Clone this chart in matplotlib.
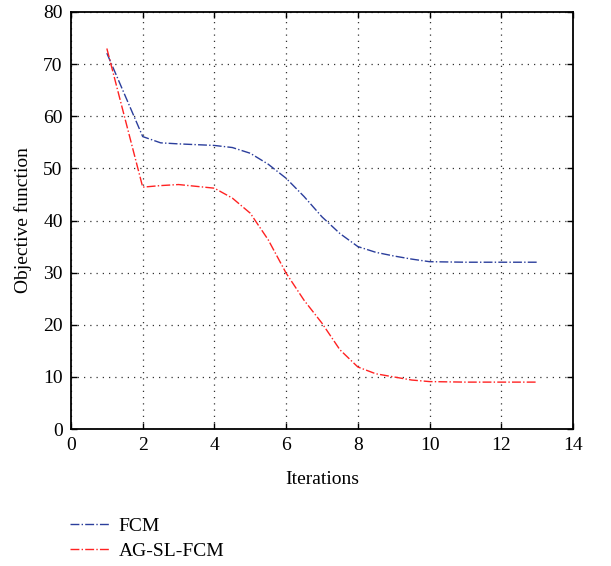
import matplotlib
matplotlib.use('Agg')
import matplotlib.pyplot as plt

plt.rcParams.update({
    'font.family': 'Liberation Serif',
    'font.size': 14,
})

# values (integer and half iterations)
iters = [1, 2, 2.5, 3, 4, 4.5, 5, 5.5, 6, 6.5, 7, 7.5, 8, 8.5, 9, 9.5, 10, 11, 12, 13]
fcm = [72.1, 56.1, 54.9, 54.7, 54.4, 54.0, 52.9, 50.8, 48.1, 44.6, 40.7, 37.5,
       35.0, 33.9, 33.2, 32.6, 32.1, 32.0, 32.0, 32.0]
ag_sl_fcm = [73.0, 46.4, 46.7, 46.9, 46.2, 44.3, 41.4, 36.3, 29.9, 24.7, 20.3, 15.2,
             11.9, 10.6, 10.0, 9.4, 9.1, 9.0, 9.0, 9.0]

fig = plt.figure(figsize=(6.11, 5.66), dpi=100)
ax = fig.add_axes([0.1162, 0.2420, 0.8216, 0.7368])

ax.plot(iters, fcm, linestyle='-.', color='#2b3e9c', linewidth=1.0, label='FCM')
ax.plot(iters, ag_sl_fcm, linestyle='-.', color='#ff2222', linewidth=1.0, label='AG-SL-FCM')

ax.set_xlim(0, 14)
ax.set_ylim(0, 80)
ax.set_xticks(range(0, 15, 2))
ax.set_yticks(range(0, 81, 10))
ax.tick_params(direction='in', top=True, right=True, length=4, width=1)
ax.tick_params(axis='y', pad=6)
ax.tick_params(axis='x', pad=6)
ax.grid(True, linestyle=(0, (1, 4)), color='#333333', linewidth=0.9)
for s in ax.spines.values():
    s.set_linewidth(1.3)

ax.set_xlabel('Iterations', labelpad=12)
ax.set_ylabel('Objective function', labelpad=8)

handles, labels = ax.get_legend_handles_labels()
fig.legend(handles, labels, loc='upper left', bbox_to_anchor=(0.102, 0.1),
           frameon=False, handlelength=2.0, handletextpad=0.5, labelspacing=0.4,
           borderaxespad=0)

fig.savefig('out.png', dpi=100)
